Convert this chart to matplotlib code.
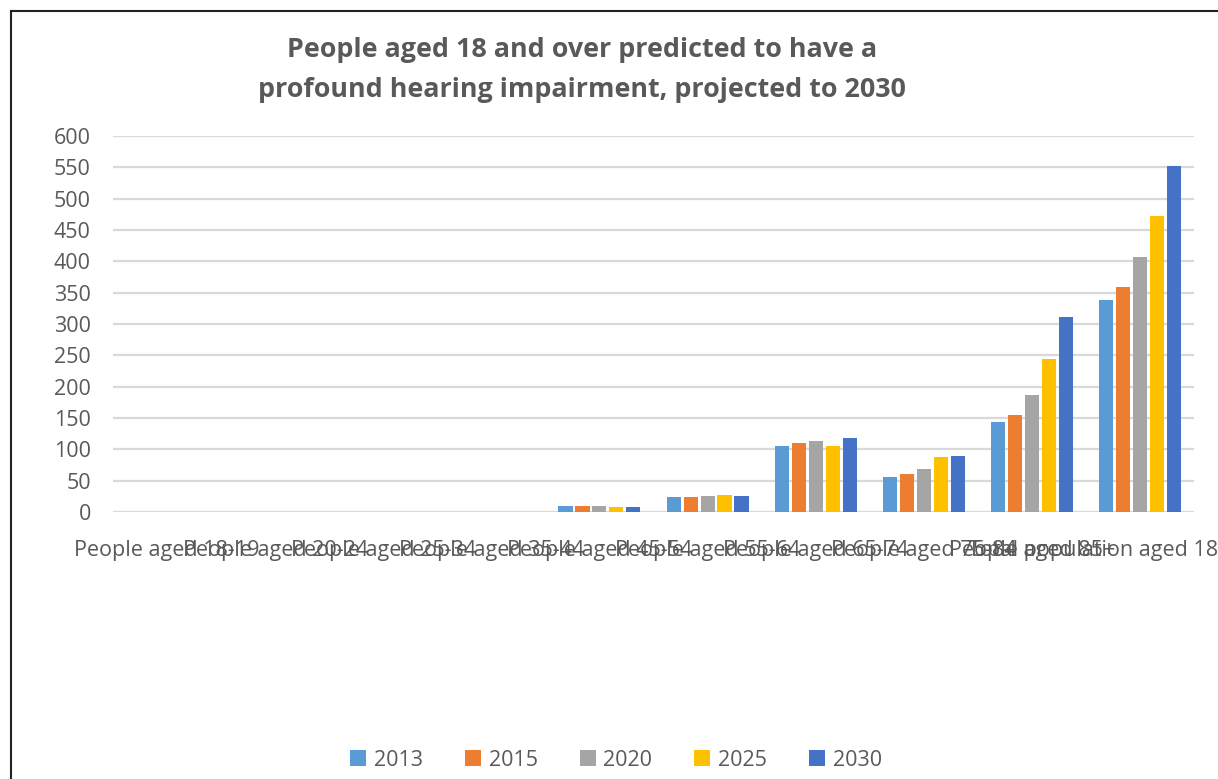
import numpy as np
import matplotlib.pyplot as plt
from matplotlib.lines import Line2D

plt.rcParams['font.family'] = ['Open Sans', 'DejaVu Sans']

categories = ["People aged 18-19", "People aged 20-24", "People aged 25-34",
              "People aged 35-44", "People aged 45-54", "People aged 55-64",
              "People aged 65-74", "People aged 75-84", "People aged 85+",
              "Total population aged 18 and over"]
years = ["2013", "2015", "2020", "2025", "2030"]
v2013 = [0, 0, 0, 0, 10, 24, 105, 56, 143, 338]
v2015 = [0, 0, 0, 0, 10, 24, 110, 60, 154, 359]
v2020 = [0, 0, 0, 0, 10, 26, 113, 69, 186, 407]
v2025 = [0, 0, 0, 0, 8, 27, 106, 87, 244, 472]
v2030 = [0, 0, 0, 0, 8, 26, 118, 90, 311, 552]
series = [v2013, v2015, v2020, v2025, v2030]
colors = ["#5B9BD5", "#ED7D31", "#A5A5A5", "#FFC000", "#4472C4"]

W, H = 1218, 779
fig = plt.figure(figsize=(W / 100, H / 100), dpi=100)
ax = fig.add_axes([113 / W, (H - 512) / H, (1194 - 113) / W, (512 - 136) / H])

x = np.arange(len(categories))
slot = 0.157
bw = 0.13
for i, (vals, col, yr) in enumerate(zip(series, colors, years)):
    ax.bar(x + (i - 2) * slot, vals, width=bw, color=col, label=yr, zorder=3)

ax.set_xlim(-0.5, len(categories) - 0.5)
ax.set_ylim(0, 600)
ax.set_yticks(range(0, 601, 50))
ax.set_xticks(x)
ax.set_xticklabels(categories)
ax.tick_params(axis='both', length=0, labelsize=15.5, labelcolor='#595959')
ax.tick_params(axis='y', pad=16)
ax.tick_params(axis='x', pad=20.5)
for s in ax.spines.values():
    s.set_visible(False)
ax.grid(axis='y', color='#D9D9D9', linewidth=1.6, zorder=0)

fig.text(582 / W, 1 - 70 / H,
         "People aged 18 and over predicted to have a\nprofound hearing impairment, projected to 2030",
         ha='center', va='center', fontsize=19.4, fontweight='bold', color='#595959',
         linespacing=1.7)

fig.legend(loc='center', bbox_to_anchor=(616 / W, 1 - 760 / H), ncol=5, frameon=False,
           fontsize=15.5, labelcolor='#595959', handlelength=0.75, handleheight=0.75,
           handletextpad=0.35, columnspacing=1.95)

# outer chart frame (only left and top visible in the crop)
fig.add_artist(Line2D([10.5 / W, 10.5 / W], [1 - 11 / H, 0], color='#222222', linewidth=1.5))
fig.add_artist(Line2D([10.5 / W, 1], [1 - 11 / H, 1 - 11 / H], color='#222222', linewidth=1.5))

fig.savefig("out.png", dpi=100)
